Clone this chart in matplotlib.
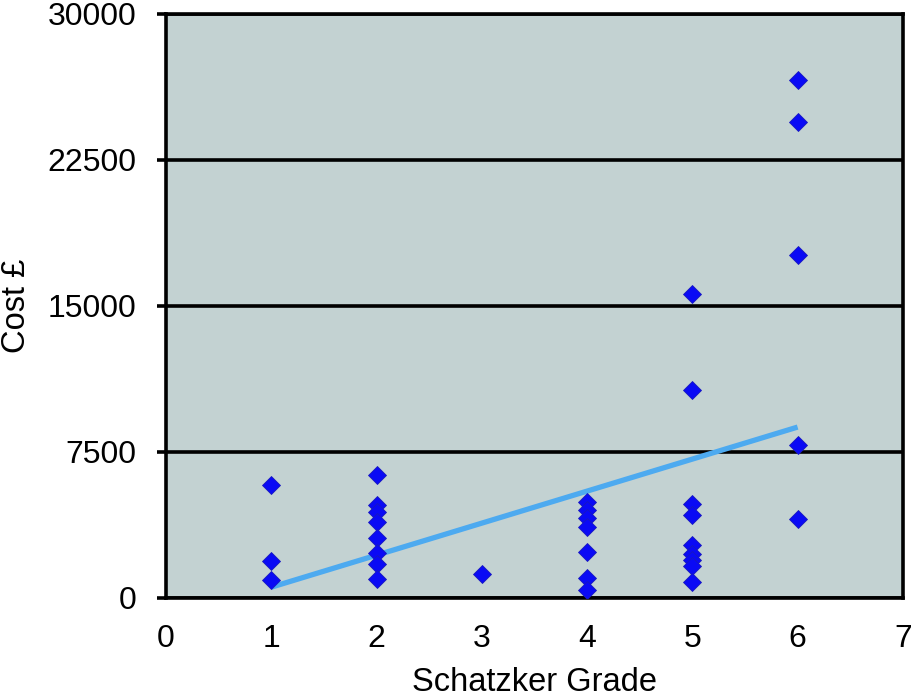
import matplotlib
matplotlib.use("Agg")
import matplotlib.pyplot as plt

plt.rcParams['font.family'] = ['Liberation Sans', 'DejaVu Sans']

# Data
grade_x = [1, 1, 1,
           2, 2, 2, 2, 2, 2, 2, 2,
           3,
           4, 4, 4, 4, 4, 4, 4,
           5, 5, 5, 5, 5, 5, 5, 5, 5,
           6, 6, 6, 6, 6]
cost_y = [5800, 1880, 950,
          6300, 4760, 4400, 3880, 3060, 2290, 1770, 1000,
          1240,
          4910, 4500, 4090, 3630, 2340, 1050, 390,
          15600, 10670, 4840, 4240, 2700, 2240, 1930, 1620, 800,
          26600, 24450, 17610, 7840, 4070]

trend_x = [1, 6]
trend_y = [555, 8780]

x_ticks = [0, 1, 2, 3, 4, 5, 6, 7]
y_ticks = [0, 7500, 15000, 22500, 30000]

fig = plt.figure(figsize=(9.12, 6.99), dpi=100)
ax = fig.add_axes([0.182, 0.1445, 0.808, 0.8355])
ax.set_facecolor('#C3D2D2')

ax.set_xlim(0, 7)
ax.set_ylim(0, 30000)
ax.set_xticks(x_ticks)
ax.set_yticks(y_ticks)

ax.yaxis.grid(True, color='black', linewidth=2.6)
ax.set_axisbelow(True)

ax.plot(trend_x, trend_y, color='#4DAAF0', linewidth=3.8, solid_capstyle='butt', zorder=2)
ax.plot(grade_x, cost_y, linestyle='none', marker='D', markersize=9.6,
        markerfacecolor='#0A0AF5', markeredgecolor='#1818C0', markeredgewidth=0.6, zorder=3)

for s in ax.spines.values():
    s.set_color('black')
    s.set_linewidth(2.6)

ax.tick_params(axis='y', direction='out', length=6.5, width=2.6, pad=15, labelsize=23)
ax.tick_params(axis='x', length=0, pad=19, labelsize=23)

ax.set_xlabel('Schatzker Grade', fontsize=23.5, labelpad=9)
ax.set_ylabel('Cost £', fontsize=23.5, labelpad=11)

fig.savefig('out.png', dpi=100)
